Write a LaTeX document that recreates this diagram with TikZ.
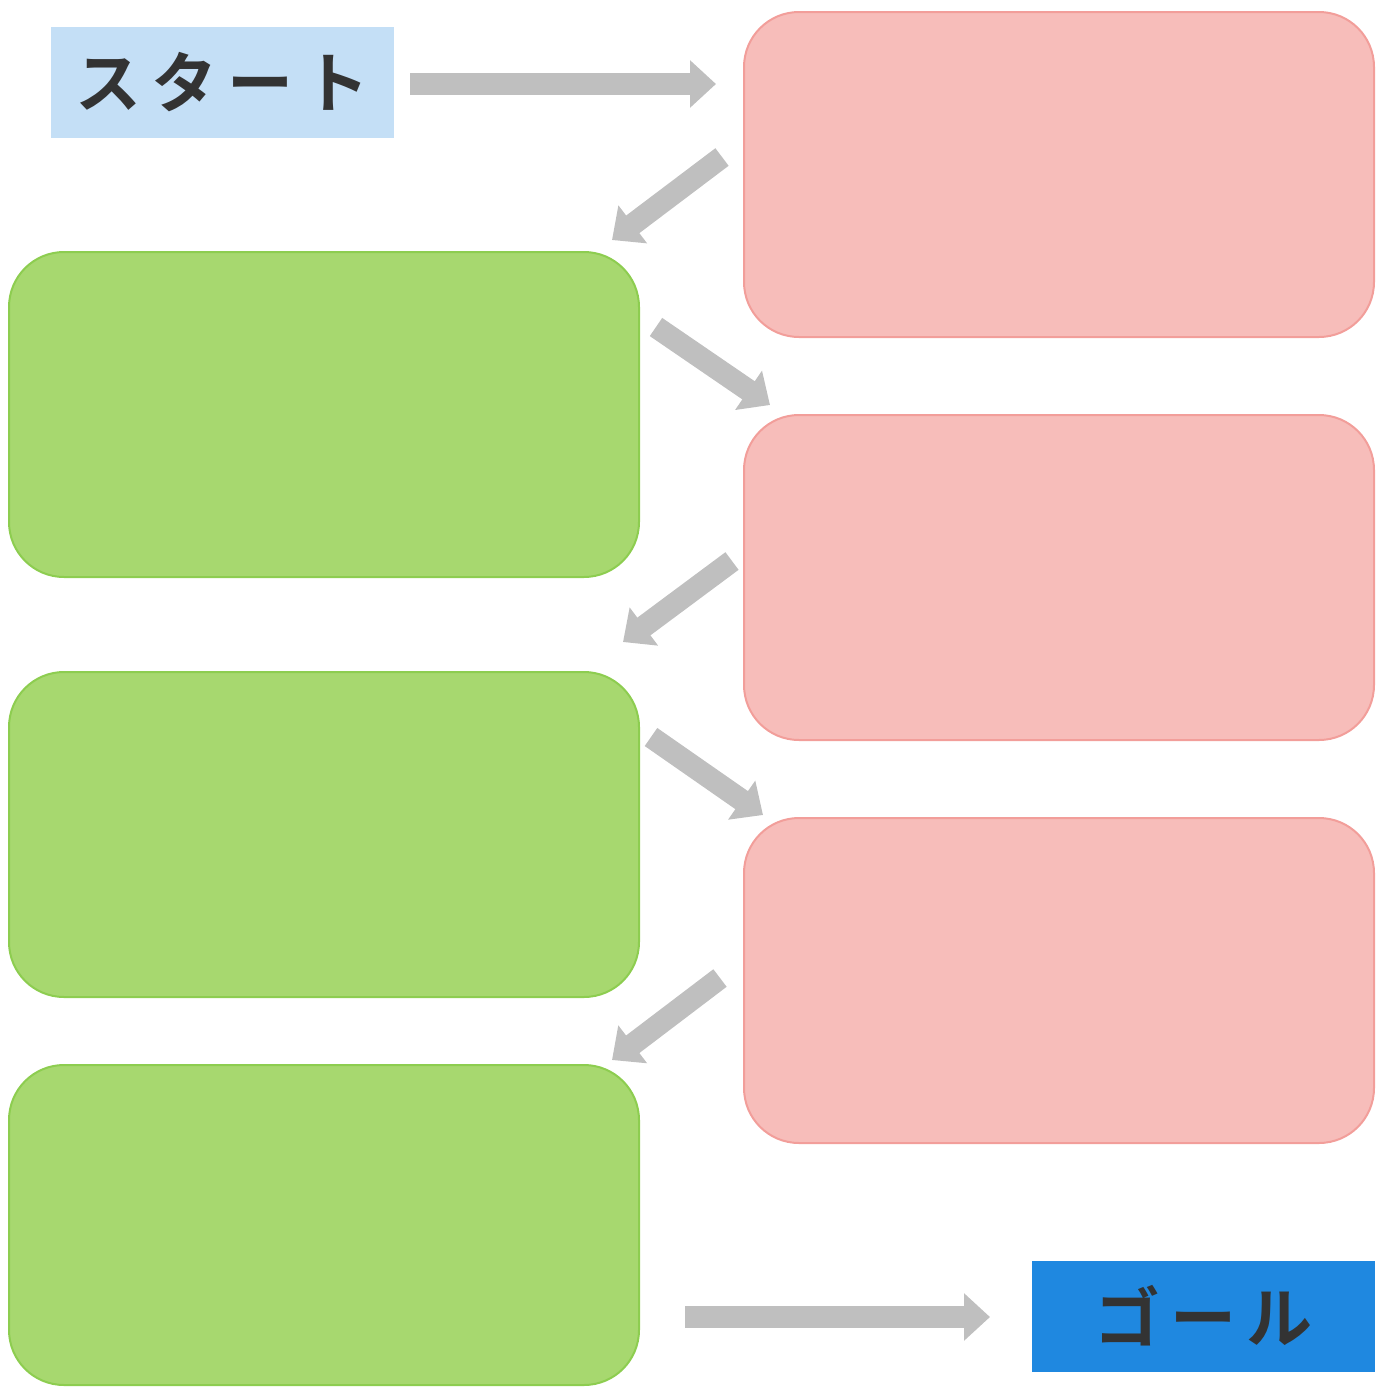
\documentclass[tikz,border=0pt]{standalone}
\usepackage{fontspec}
\newfontfamily\jpfont[LetterSpace=15]{Noto Sans CJK JP Bold}
\usetikzlibrary{arrows.meta}

\definecolor{startblue}{HTML}{C4DFF6}
\definecolor{goalblue}{HTML}{1F88E0}
\definecolor{pinkfill}{HTML}{F7BDBA}
\definecolor{pinkline}{HTML}{F29E9A}
\definecolor{greenfill}{HTML}{A7D86F}
\definecolor{greenline}{HTML}{8DCD50}
\definecolor{arrowgray}{HTML}{BFBFBF}
\definecolor{textdark}{HTML}{333333}

\tikzset{
  label box/.style={rectangle, inner sep=0pt, minimum width=171.5pt, minimum height=55.5pt,
    font=\jpfont\fontsize{33pt}{33pt}\selectfont, text=textdark},
  pink box/.style={rectangle, rounded corners=27.5pt, draw=pinkline, fill=pinkfill, line width=1pt,
    minimum width=315pt, minimum height=162.5pt},
  green box/.style={rectangle, rounded corners=27.5pt, draw=greenline, fill=greenfill, line width=1pt,
    minimum width=315pt, minimum height=162.5pt},
  block arrow/.style={draw=arrowgray, line width=11pt, -{Triangle[width=23pt, length=13pt]}}
}

\begin{document}
\begin{tikzpicture}[x=0.5pt, y=-0.5pt]
        \useasboundingbox (0,0) rectangle (1382,1387);

        % nodes
        \node (start) [label box, fill=startblue] at (222.5,82.5) {スタート};
        \node (p1) [pink box] at (1059,174.5) {};
        \node (g1) [green box] at (324,414.5) {};
        \node (p2) [pink box] at (1059,577.5) {};
        \node (g2) [green box] at (324,834.5) {};
        \node (p3) [pink box] at (1059,980.5) {};
        \node (g3) [green box, minimum height=160pt] at (324,1225) {};
        \node (goal) [label box, fill=goalblue] at (1203.5,1316) {ゴール};

        % arrow ends
        \coordinate (a1s) at (410,84);   \coordinate (a1e) at (716,84);
        \coordinate (a2s) at (722,157);  \coordinate (a2e) at (612,240);
        \coordinate (a3s) at (656,327);  \coordinate (a3e) at (770,405);
        \coordinate (a4s) at (732,561);  \coordinate (a4e) at (623,642);
        \coordinate (a5s) at (651,737);  \coordinate (a5e) at (763,815);
        \coordinate (a6s) at (720,978);  \coordinate (a6e) at (612,1060);
        \coordinate (a7s) at (685,1317); \coordinate (a7e) at (990,1317);

        % edges
        \draw[block arrow] (a1s) -- (a1e);
        \draw[block arrow] (a2s) -- (a2e);
        \draw[block arrow] (a3s) -- (a3e);
        \draw[block arrow] (a4s) -- (a4e);
        \draw[block arrow] (a5s) -- (a5e);
        \draw[block arrow] (a6s) -- (a6e);
        \draw[block arrow] (a7s) -- (a7e);
\end{tikzpicture}
\end{document}
